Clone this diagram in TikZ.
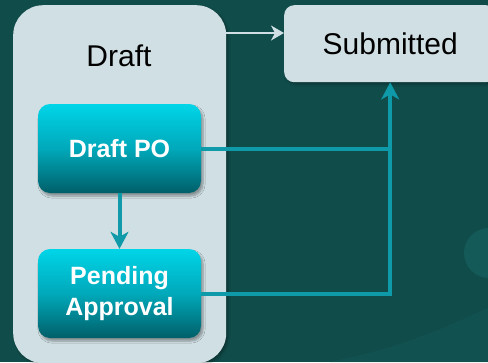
\documentclass[tikz,border=0pt]{standalone}
\usepackage{fontspec}
\setmainfont{Liberation Sans}
\usetikzlibrary{arrows.meta,shadows.blur}
\definecolor{bgteal}{HTML}{104C4A}
\definecolor{bgcirc}{HTML}{145A58}
\definecolor{panel}{HTML}{D0DFE3}
\definecolor{cyantop}{HTML}{00D5E8}
\definecolor{cyanmid}{HTML}{00A9BA}
\definecolor{cyanbot}{HTML}{005F69}
\definecolor{linkteal}{HTML}{0E9AA8}
\tikzset{
  panelbox/.style={fill=panel, draw=none, inner sep=0pt, blur shadow={shadow blur steps=6, shadow xshift=2pt, shadow yshift=-2pt, shadow opacity=30}},
  stepbox/.style={rounded corners=12pt, top color=cyantop, bottom color=cyanbot, middle color=cyanmid, draw=none,
     minimum width=163pt, minimum height=89pt, inner sep=0pt, text=white, align=center,
     font=\fontsize{25}{31}\selectfont\bfseries,
     blur shadow={shadow blur steps=6, shadow xshift=2pt, shadow yshift=-3pt, shadow opacity=35}},
  tealarrow/.style={draw=linkteal, line width=4pt, -{Stealth[length=17pt,width=18pt,inset=5pt]}},
  tealline/.style={draw=linkteal, line width=4pt},
  whitearrow/.style={draw=panel, line width=1.5pt, -{Stealth[length=13pt,width=15pt,inset=4pt]}}
}
\begin{document}
\begin{tikzpicture}[x=1pt,y=-1pt]
\fill[bgteal] (0,0) rectangle (488,362);
\useasboundingbox (0,0) rectangle (488,362);
% decorations
\fill[bgcirc] (489,253) circle (25);
\fill[bgcirc, opacity=0.45] (330,362) .. controls (390,350) and (430,335) .. (488,308) -- (488,362) -- cycle;
% cluster
\node[panelbox, rounded corners=30pt, minimum width=213pt, minimum height=358pt, anchor=north west] (cluster) at (13,5) {};
\node[font=\fontsize{30}{36}\selectfont] (clabel) at (119,56) {Draft};
% submitted
\node[panelbox, rounded corners=10pt, minimum width=212pt, minimum height=77pt, anchor=north west,
      font=\fontsize{30}{36}\selectfont] (sub) at (284,5) {Submitted};
% steps
\node[stepbox] (dpo) at (119.5,148.5) {Draft PO};
\node[stepbox] (pa) at (119.5,293.5) {Pending\\Approval};
% connectors
\draw[whitearrow] (cluster.east |- 0,33) -- (sub.west |- 0,33);
\draw[tealarrow] (dpo) -- (pa);
\coordinate (j) at (sub.south |- dpo.east);
\draw[tealline] (dpo.east) -- (j);
\draw[tealarrow] (pa.east) -| (sub.south);
\end{tikzpicture}
\end{document}
